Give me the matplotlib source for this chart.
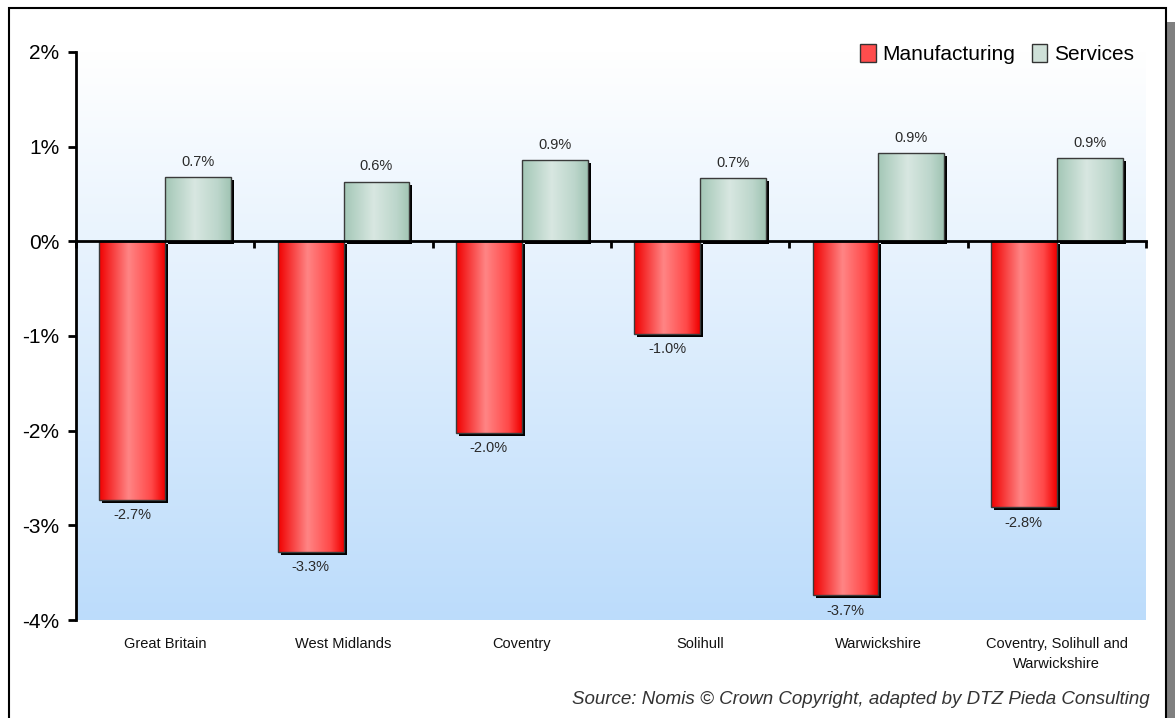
import numpy as np
import matplotlib
matplotlib.use("Agg")
import matplotlib.pyplot as plt
from matplotlib.colors import LinearSegmentedColormap
from matplotlib.patches import Rectangle, Patch
from matplotlib.transforms import ScaledTranslation

categories = ["Great Britain", "West Midlands", "Coventry", "Solihull",
              "Warwickshire", "Coventry, Solihull and\nWarwickshire"]
manufacturing = [-2.73, -3.28, -2.02, -0.98, -3.74, -2.81]
services = [0.68, 0.63, 0.86, 0.67, 0.93, 0.88]
series_names = ["Manufacturing", "Services"]
yticks = [-4, -3, -2, -1, 0, 1, 2]
source = "Source: Nomis \u00a9 Crown Copyright, adapted by DTZ Pieda Consulting"

plt.rcParams['font.family'] = ['Liberation Sans', 'DejaVu Sans']

W, H, DPI = 1175, 718, 100
fig = plt.figure(figsize=(W / DPI, H / DPI), dpi=DPI)
fig.patch.set_facecolor("white")

L, R, T, B = 76, 1146, 52, 620
ax = fig.add_axes([L / W, 1 - B / H, (R - L) / W, (B - T) / H])
ax.set_xlim(-0.5, len(categories) - 0.5)
ax.set_ylim(-4, 2)

# background gradient (light blue at bottom -> white at top)
bg = LinearSegmentedColormap.from_list("bg", ["#bcdcfb", "#ffffff"])
ax.imshow(np.linspace(0, 1, 256).reshape(-1, 1), extent=[0, 1, 0, 1],
          transform=ax.transAxes, cmap=bg, aspect="auto", origin="lower", zorder=0)

x = np.arange(len(categories))
bw = 0.37
red_cmap = LinearSegmentedColormap.from_list(
    "r", [(0, "#f00000"), (0.45, "#ff8585"), (0.8, "#ff4848"), (1, "#f00000")])
grn_cmap = LinearSegmentedColormap.from_list(
    "g", [(0, "#a3c7b6"), (0.45, "#d8e7e1"), (0.8, "#bcd6cb"), (1, "#a0c4b3")])
grad = np.linspace(0, 1, 256).reshape(1, -1)

shadow_off = ScaledTranslation(3 / DPI, -3 / DPI, fig.dpi_scale_trans)

for vals, offs, cmap in [(manufacturing, -bw / 2, red_cmap), (services, bw / 2, grn_cmap)]:
    sh = ax.bar(x + offs, vals, bw, color="black", zorder=2)
    for p in sh:
        p.set_transform(ax.transData + shadow_off)
    bars = ax.bar(x + offs, vals, bw, facecolor="none", edgecolor="#3a3a3a",
                  linewidth=1.0, zorder=4)
    for p in bars:
        x0, y0, w, h = p.get_x(), p.get_y(), p.get_width(), p.get_height()
        im = ax.imshow(grad, extent=[x0, x0 + w, min(y0, y0 + h), max(y0, y0 + h)],
                       cmap=cmap, aspect="auto", zorder=3)
        im.set_clip_path(p)
    ax.bar_label(bars, labels=[f"{v:.1f}%" for v in vals], padding=6,
                 fontsize=10.5, color="#2a2a2a")

ax.set_xlim(-0.5, len(categories) - 0.5)
ax.set_ylim(-4, 2)

# axes styling
for s in ["top", "right"]:
    ax.spines[s].set_visible(False)
ax.spines["left"].set_linewidth(2)
ax.spines["bottom"].set_position(("data", 0))
ax.spines["bottom"].set_linewidth(2)
ax.spines["bottom"].set_zorder(5)
ax.set_xticks(np.arange(-0.5, len(categories), 1.0))
ax.set_xticklabels([])
ax.tick_params(axis="x", direction="out", length=5, width=2)
ax.set_yticks(yticks)
ax.set_yticklabels([f"{v}%" for v in yticks], fontsize=15)
ax.tick_params(axis="y", direction="out", length=6, width=2, pad=6)

sec = ax.secondary_xaxis("bottom")
sec.set_xticks(x)
sec.set_xticklabels(categories, fontsize=10.5, color="#111111", linespacing=1.55)
sec.tick_params(length=0, pad=12)
sec.spines["bottom"].set_visible(False)

# legend
handles = [Patch(facecolor="#ff4d4d", edgecolor="#333333", label=series_names[0]),
           Patch(facecolor="#cfe0d8", edgecolor="#333333", label=series_names[1])]
fig.legend(handles=handles, loc="upper right", bbox_to_anchor=(1142 / W, 1 - 36 / H),
           ncol=2, frameon=False, fontsize=15, handlelength=0.75, handleheight=0.9,
           handletextpad=0.3, columnspacing=0.8, borderaxespad=0)

# source
fig.text(1150 / W, 1 - 700 / H, source, ha="right", va="center", fontsize=13.5,
         style="italic", color="#333333")

# outer frame and shadow
fig.patches.append(Rectangle((1166 / W, -0.1), 9 / W, 1.1 - 22 / H,
                             transform=fig.transFigure, facecolor="#808080",
                             edgecolor="none", zorder=0))
fig.patches.append(Rectangle((8.5 / W, -0.1), 1157 / W, 1.1 - 8.5 / H,
                             transform=fig.transFigure, facecolor="none",
                             edgecolor="black", linewidth=1.5, zorder=1))

fig.savefig("out.png", dpi=DPI)
